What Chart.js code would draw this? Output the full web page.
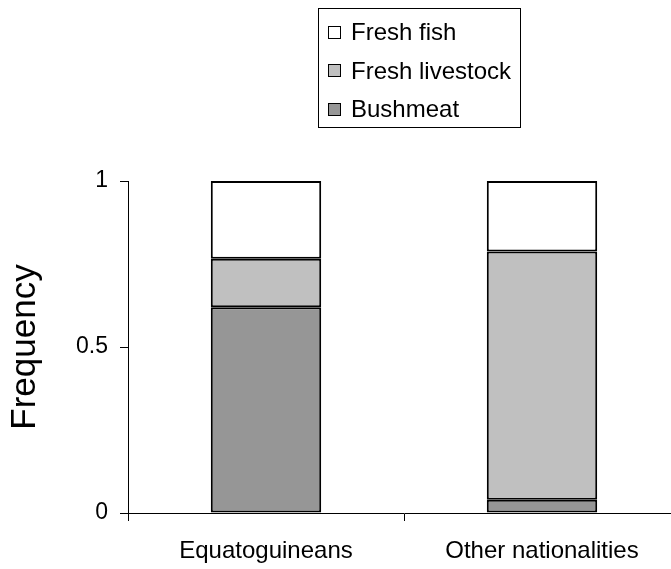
<!DOCTYPE html>
<html>
<head>
<meta charset="utf-8">
<script src="https://cdn.jsdelivr.net/npm/chart.js@4"></script>
<style>
  html, body { margin: 0; padding: 0; background: #fff; overflow: hidden; }
  #wrap { position: relative; width: 671px; height: 569px; overflow: hidden; }
  #chart { position: absolute; left: 0; top: 0; }
  #legend {
    position: absolute; left: 318px; top: 8px; width: 203px; height: 120px;
    box-sizing: border-box; border: 1.5px solid #000; padding-top: 4px;
    font-family: "Liberation Sans", Arial, sans-serif; font-size: 24px; color: #000;
    white-space: nowrap;
  }
  #legend .row { height: 38.5px; display: flex; align-items: center; }
  #legend .box { width: 11px; height: 11px; border: 1px solid #000; margin-left: 9px; margin-right: 10px; }
</style>
</head>
<body>
<div id="wrap">
  <canvas id="chart" width="700" height="569"></canvas>
  <div id="legend"></div>
</div>
<script>
// categories and stacked frequencies
const categories = ['Equatoguineans', 'Other nationalities'];
const bushmeat = [0.62, 0.04];
const freshLivestock = [0.146, 0.748];
const freshFish = [0.234, 0.212];
const yTicks = [0, 0.5, 1];

const fontFamily = '"Liberation Sans", Arial, sans-serif';

function makeDataset(label, data, color) {
  return {
    label: label,
    data: data,
    backgroundColor: color,
    borderColor: '#000',
    borderWidth: 2,
    borderSkipped: false,
    barPercentage: 0.4,
    categoryPercentage: 1.0
  };
}

const chart = new Chart(document.getElementById('chart'), {
  type: 'bar',
  data: {
    labels: categories,
    datasets: [
      makeDataset('Bushmeat', bushmeat, '#969696'),
      makeDataset('Fresh livestock', freshLivestock, '#c0c0c0'),
      makeDataset('Fresh fish', freshFish, '#ffffff')
    ]
  },
  options: {
    responsive: false,
    animation: false,
    layout: {
      padding: { top: 181, right: 20, bottom: 0, left: 0 }
    },
    plugins: {
      legend: { display: false },
      tooltip: { enabled: false }
    },
    scales: {
      x: {
        stacked: true,
        offset: true,
        grid: {
          offset: true,
          drawOnChartArea: false,
          drawTicks: true,
          tickLength: 8,
          color: '#000',
          lineWidth: 1
        },
        border: { color: '#000', width: 1 },
        ticks: {
          color: '#000',
          padding: 16,
          font: { family: fontFamily, size: 24 }
        },
        afterFit: function(scale) {
          scale.height = 56;
        }
      },
      y: {
        stacked: true,
        min: 0,
        max: 1,
        afterBuildTicks: function(scale) {
          scale.ticks = yTicks.map(v => ({ value: v }));
        },
        grid: {
          drawOnChartArea: false,
          drawTicks: true,
          tickLength: 8,
          color: '#000',
          lineWidth: 1
        },
        border: { color: '#000', width: 1 },
        ticks: {
          color: '#000',
          padding: 12,
          font: { family: fontFamily, size: 23 },
          callback: function(value) {
            return String(value);
          }
        },
        title: {
          display: true,
          text: 'Frequency',
          color: '#000',
          padding: { top: 4, bottom: 0 },
          font: { family: fontFamily, size: 35, weight: 'normal' }
        },
        afterFit: function(scale) {
          scale.width = 128;
        }
      }
    }
  }
});

// legend: top to bottom is the reverse of the stacking order
const legendEl = document.getElementById('legend');
chart.data.datasets.slice().reverse().forEach(function(ds) {
  const row = document.createElement('div');
  row.className = 'row';
  const box = document.createElement('span');
  box.className = 'box';
  box.style.background = ds.backgroundColor;
  const label = document.createElement('span');
  label.textContent = ds.label;
  row.appendChild(box);
  row.appendChild(label);
  legendEl.appendChild(row);
});
</script>
</body>
</html>
